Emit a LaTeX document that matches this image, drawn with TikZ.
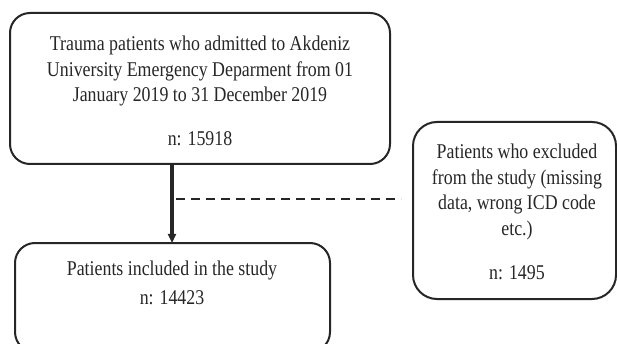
\documentclass[tikz,border=0pt]{standalone}
\usepackage{fontspec}
\setmainfont{Liberation Serif}[FakeStretch=0.85]
\usetikzlibrary{arrows.meta}
\begin{document}
\begin{tikzpicture}[x=1pt,y=-1pt,
  box/.style={draw=black!85,line width=2pt,rounded corners=20pt,inner sep=0pt},
  txt/.style={font=\fontsize{21}{25.5}\selectfont,align=center,inner sep=0pt,text=black!85}]
\useasboundingbox (0,0) rectangle (617,344);
\clip (0,0) rectangle (617,344);
% boxes
\draw[box] (10,13) rectangle (390,164);
\node[inner sep=0pt] (top) at (200,88.5) {};
\coordinate (topS) at (172,164);
\draw[box,rounded corners=24pt] (413,122) rectangle (616,299);
\coordinate (exclW) at (413,199);
\draw[box] (15,243) rectangle (330,352);
\coordinate (botN) at (172,243);
% texts
\node[txt] (t1) at (200,71) {Trauma patients who admitted to Akdeniz\\University Emergency Deparment from 01\\January 2019 to 31 December 2019};
\node[txt] (t2) at (200,139) {n: 15918};
\node[txt] (r1) at (517,192) {Patients who excluded\\from the study (missing\\data, wrong ICD code\\etc.)};
\node[txt] (r2) at (517,273) {n: 1495};
\node[txt] (b1) at (172,270) {Patients included in the study};
\node[txt] (b2) at (172,298) {n: 14423};
% connectors
\draw[line width=3.2pt,draw=black!85,-{Triangle[length=9pt,width=8pt]}] (topS) -- (botN);
\coordinate (dashS) at (176,199);
\coordinate (dashE) at (401,199);
\draw[line width=1.8pt,draw=black!85,dash pattern=on 9pt off 6pt] (dashS) -- (dashE);
\end{tikzpicture}
\end{document}
